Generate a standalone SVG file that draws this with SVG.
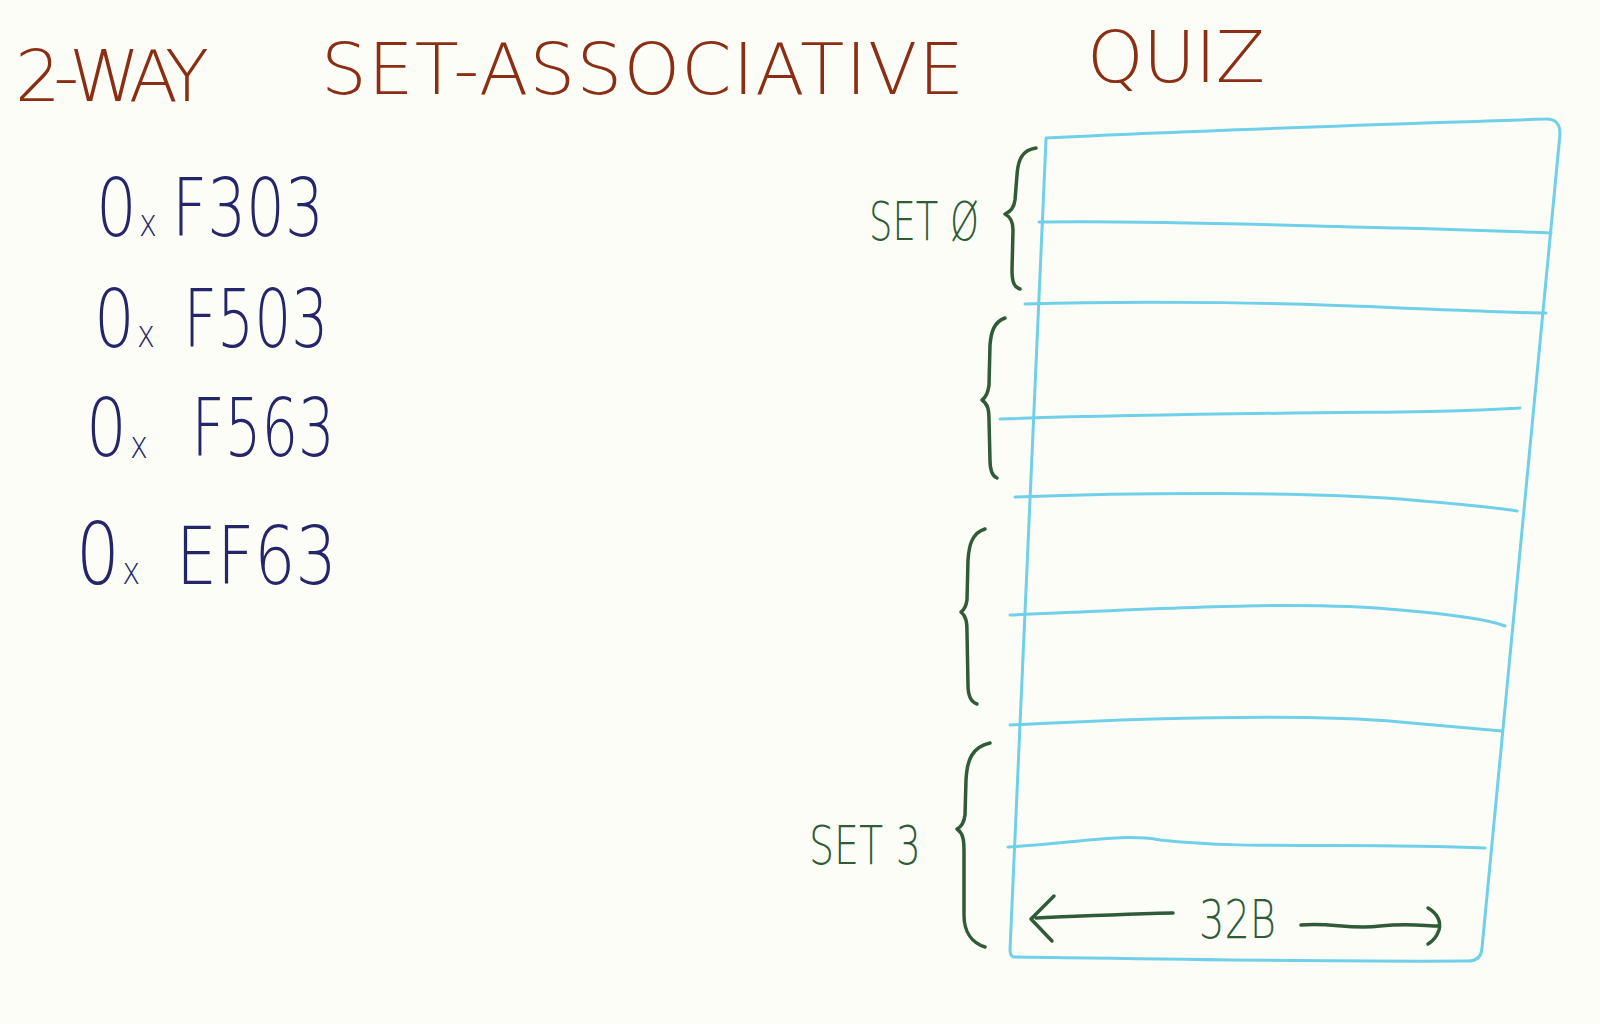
<svg xmlns="http://www.w3.org/2000/svg" width="1600" height="1024" viewBox="0 0 1600 1024">
<style>
.title{font-family:"DejaVu Sans","Liberation Sans",sans-serif;font-stretch:condensed;font-weight:200;font-size:72px;fill:#8a2f14}
.hex{font-family:"DejaVu Sans","Liberation Sans",sans-serif;font-weight:200;font-size:80px;fill:#25266a}
.sx{font-size:38px}
.lbl{font-family:"DejaVu Sans","Liberation Sans",sans-serif;font-stretch:condensed;font-weight:200;font-size:54px;fill:#2f5c36}
.cyan{fill:none;stroke:#6fd0e8;stroke-width:3;stroke-linecap:round;stroke-linejoin:round}
.grn{fill:none;stroke:#2f5c36;stroke-width:3.5;stroke-linecap:round;stroke-linejoin:round}
</style>
<rect width="1600" height="1024" fill="#fdfdf8"/>
<g id="title">
<text class="title" x="15" y="101" textLength="194" lengthAdjust="spacing">2-WAY</text>
<text class="title" x="321" y="94" textLength="643" lengthAdjust="spacing">SET-ASSOCIATIVE</text>
<text class="title" x="1087" y="82" textLength="178" lengthAdjust="spacing">QUIZ</text>
</g>
<g id="addresses">
<text id="addr1" class="hex" transform="translate(96,236) scale(0.8,1)"><tspan x="0">0</tspan><tspan class="sx" dx="3">x </tspan><tspan x="95" textLength="190" lengthAdjust="spacingAndGlyphs">F303</tspan></text>
<text id="addr2" class="hex" transform="translate(94,347) scale(0.8,1)"><tspan x="0">0</tspan><tspan class="sx" dx="3">x </tspan><tspan x="112" textLength="181" lengthAdjust="spacingAndGlyphs">F503</tspan></text>
<text id="addr3" class="hex" transform="translate(86,456) scale(0.8,1)"><tspan x="0">0</tspan><tspan class="sx" dx="4" dy="2">x </tspan><tspan x="132" dy="-2" textLength="179" lengthAdjust="spacingAndGlyphs">F563</tspan></text>
<text id="addr4" class="hex" transform="translate(76,584) scale(0.8,1)"><tspan x="0" font-size="86">0</tspan><tspan class="sx" dx="3">x </tspan><tspan x="125" textLength="201" lengthAdjust="spacingAndGlyphs">EF63</tspan></text>
</g>
<g id="cache">
<path class="cyan" d="M1046,138 C1200,130 1400,124 1545,119 Q1560,118 1560,134 L1482,948 Q1481,961 1468,961 C1300,962 1100,958 1014,957 Q1010,956 1010,950 L1046,140 Z"/>
<path class="cyan" d="M1039,222 C1150,220 1300,226 1400,228 C1480,230 1520,232 1551,233"/>
<path class="cyan" d="M1025,304 C1150,300 1300,303 1400,308 C1480,311 1520,313 1546,313"/>
<path class="cyan" d="M1000,419 C1150,414 1300,413 1400,412 C1470,411 1500,409 1520,408"/>
<path class="cyan" d="M1015,497 C1150,492 1300,492 1400,499 C1470,505 1500,508 1517,511"/>
<path class="cyan" d="M1010,615 C1150,609 1300,600 1400,610 C1460,615 1490,620 1505,626"/>
<path class="cyan" d="M1010,725 C1150,718 1300,713 1400,722 C1460,727 1490,730 1502,731"/>
<path class="cyan" d="M1008,847 C1080,843 1120,833 1160,840 C1250,850 1350,842 1485,848"/>
</g>
<g id="set-braces">
<path class="grn" d="M1036,148 C1022,150 1018,160 1017,175 L1015,200 C1014,208 1010,212 1005,214 C1011,217 1013,222 1013,230 L1012,270 C1012,282 1014,287 1020,289"/>
<path class="grn" d="M1005,318 C994,322 991,332 990,345 L989,385 C988,394 985,398 982,400 C988,404 989,410 989,420 L990,460 C990,470 992,476 997,478"/>
<path class="grn" d="M985,529 C972,533 969,545 968,560 L967,600 C966,607 964,610 961,612 C966,616 967,622 967,632 L968,685 C968,695 971,702 977,704"/>
<path class="grn" d="M990,743 C972,747 967,760 966,780 L965,815 C964,823 961,827 957,829 C963,833 964,840 964,850 L964,915 C964,932 972,943 985,947"/>
</g>
<g id="labels">
<text id="set0" class="lbl" x="869" y="240" textLength="110" lengthAdjust="spacingAndGlyphs">SET Ø</text>
<text id="set3" class="lbl" x="809" y="864" textLength="112" lengthAdjust="spacingAndGlyphs">SET 3</text>
</g>
<g id="connectors">
<path class="grn" d="M1036,918 C1080,916 1130,914 1173,913"/>
<path class="grn" d="M1054,896 L1031,919 L1052,941"/>
<text id="size" class="lbl" x="1199" y="938" textLength="77" lengthAdjust="spacingAndGlyphs">32B</text>
<path class="grn" d="M1301,925 C1330,922 1350,930 1380,926 C1410,923 1425,926 1439,926"/>
<path class="grn" d="M1428,908 C1438,914 1441,922 1439,930 C1437,936 1433,941 1428,944"/>
</g>
</svg>
